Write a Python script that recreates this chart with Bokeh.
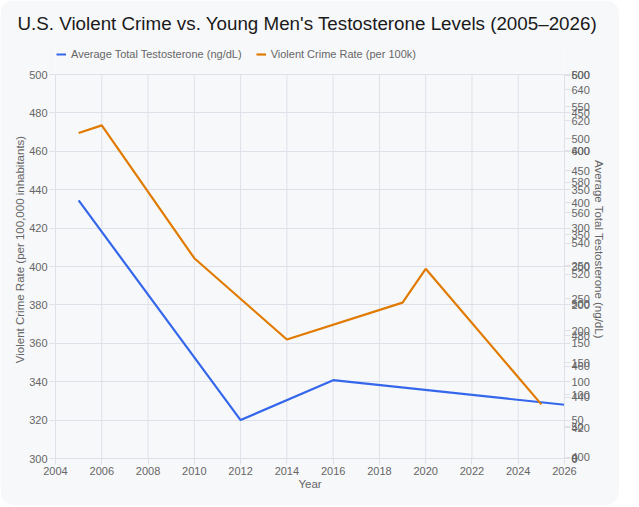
from bokeh.plotting import figure
from bokeh.models import LinearAxis, Range1d, FixedTicker, Legend, LegendItem
from bokeh.embed import file_html
from bokeh.resources import INLINE

# ---- data ----
crime_years = [2005, 2006, 2010, 2014, 2019, 2020, 2025]
crime_rate = [469.5, 473.5, 404.3, 362.0, 381.2, 398.8, 328.2]

testo_years = [2005, 2012, 2016, 2026]
testosterone = [568, 425, 451, 435]

x_ticks = list(range(2004, 2027, 2))
left_ticks = list(range(300, 501, 20))

# the right side shows three overlapping tick sets
right_a = list(range(0, 601, 50))     # 0 .. 600
right_b = list(range(0, 501, 50))     # 0 .. 500
right_c = list(range(400, 641, 20))   # 400 .. 640 (testosterone scale 400-650)

BLUE = "#3467eb"
ORANGE = "#e07b00"
GRID = "#dfe1ea"
TXT = "#666666"
FONT = "Liberation Sans"
BG = "#f7f8fa"

# plotted area spans 300..500 over 384px; the frame is extended upward by 34px to host the legend
EXT = 418.0 / 384.0
p = figure(width=619, height=505, output_backend="svg", toolbar_location=None,
           x_range=Range1d(2004, 2026), y_range=Range1d(300, 300 + 200 * EXT),
           min_border_left=55, min_border_right=55, min_border_top=40, min_border_bottom=47)
p.background_fill_color = BG
p.border_fill_color = BG
p.outline_line_color = None
p.styles = {"border-radius": "14px", "overflow": "hidden"}

p.extra_y_ranges = {"rax": Range1d(0, 600 * EXT), "testo": Range1d(400, 400 + 250 * EXT)}

# composite right-axis tick positions (in 0-600 units) and labels
pos_labels = {}
def put(pos, label):
    while pos in pos_labels:
        pos = pos + 1 if pos < 600 else pos - 1
    pos_labels[pos] = label
for v in right_a:
    put(v, str(v))
for v in right_b:
    put(v * 6 // 5, str(v))
for v in right_c:
    put((v - 400) * 12 // 5, str(v))

rax = LinearAxis(y_range_name="rax", axis_label="Average Total Testosterone (ng/dL)", bounds=(0, 600))
rax.ticker = FixedTicker(ticks=sorted(pos_labels.keys()))
rax.major_label_overrides = {k: v for k, v in pos_labels.items()}
p.add_layout(rax, "right")

# vertical grid lines at the year ticks, spanning the 300..500 band
p.segment(x0=x_ticks, x1=x_ticks, y0=[left_ticks[0]] * len(x_ticks), y1=[left_ticks[-1]] * len(x_ticks),
          line_color=GRID, line_width=1)

r_t = p.line(testo_years, testosterone, y_range_name="testo", line_color=BLUE, line_width=2.2)
r_c = p.line(crime_years, crime_rate, line_color=ORANGE, line_width=2.2)

p.xaxis.ticker = FixedTicker(ticks=x_ticks)
p.yaxis[0].ticker = FixedTicker(ticks=left_ticks)
p.yaxis[0].bounds = (300, 500)
p.xaxis.axis_label = "Year"
p.yaxis[0].axis_label = "Violent Crime Rate (per 100,000 inhabitants)"

for ax in [p.xaxis[0], p.yaxis[0], rax]:
    ax.major_label_text_font = FONT
    ax.major_label_text_font_size = "11px"
    ax.major_label_text_color = TXT
    ax.axis_label_text_font = FONT
    ax.axis_label_text_font_size = "11.5px"
    ax.axis_label_text_font_style = "normal"
    ax.axis_label_text_color = TXT
    ax.axis_line_color = GRID
    ax.major_tick_line_color = GRID
    ax.major_tick_in = 0
    ax.major_tick_out = 6
    ax.minor_tick_line_color = None
    ax.axis_label_standoff = 0
    ax.major_label_standoff = 2
rax.axis_label_standoff = 0
rax.major_label_standoff = 1

p.xgrid.grid_line_color = None
p.ygrid.ticker = FixedTicker(ticks=left_ticks)
p.ygrid.grid_line_color = GRID
p.ygrid.grid_line_width = 1

p.title.text = "U.S. Violent Crime vs. Young Men's Testosterone Levels (2005\u20132026)"
p.title.text_font = FONT
p.title.text_font_size = "18.8px"
p.title.text_font_style = "normal"
p.title.text_color = "#1a1a1a"
p.title.align = "left"
p.title.offset = -38
p.title.standoff = 13

legend = Legend(items=[LegendItem(label="Average Total Testosterone (ng/dL)", renderers=[r_t]),
                       LegendItem(label="Violent Crime Rate (per 100k)", renderers=[r_c])],
                orientation="horizontal", location=(1, 398))
legend.label_text_font = FONT
legend.label_text_font_size = "11px"
legend.label_text_color = TXT
legend.glyph_width = 10
legend.glyph_height = 12
legend.label_standoff = 5
legend.spacing = 14
legend.background_fill_alpha = 0
legend.border_line_color = None
legend.padding = 0
legend.margin = 0
p.add_layout(legend)

open("out.html", "w").write(file_html(p, INLINE))
